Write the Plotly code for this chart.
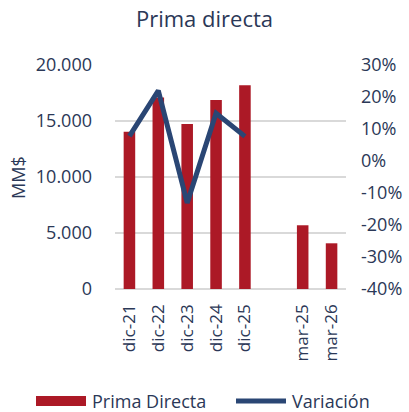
import plotly.graph_objects as go

categories = ["dic-21", "dic-22", "dic-23", "dic-24", "dic-25", " ", "mar-25", "mar-26"]
prima_directa = [14050, 17100, 14730, 16880, 18200, None, 5690, 4080]
variacion = [0.078, 0.22, -0.131, 0.149, 0.077, None, None, None]

TXT = "#2B3857"
FONT = "Open Sans"
BAR = "#AC1926"
LINE = "#2A4674"

W, H = 409, 412
L, R, T, B = 115, 63, 65, 123
PW, PH = W - L - R, H - T - B


def px(x):
    return (x - L) / PW


def py(y):
    return (H - B - y) / PH


fig = go.Figure()
fig.add_trace(go.Bar(x=categories, y=prima_directa, name="Prima Directa",
                     marker=dict(color=BAR, line=dict(width=0)), yaxis="y"))
fig.add_trace(go.Scatter(x=categories, y=variacion, name="Variación", mode="lines",
                         line=dict(color=LINE, width=5), yaxis="y2"))

shapes = [
    dict(type="rect", xref="paper", yref="paper", x0=px(36), x1=px(86), y0=py(406), y1=py(396),
         fillcolor=BAR, line=dict(width=0)),
    dict(type="line", xref="paper", yref="paper", x0=px(236), x1=px(286), y0=py(401), y1=py(401),
         line=dict(color=LINE, width=5)),
]
annotations = [
    dict(text="Prima Directa", xref="paper", yref="paper", x=px(90), y=py(401), xanchor="left",
         yanchor="middle", showarrow=False, font=dict(size=18, color=TXT, family=FONT)),
    dict(text="Variación", xref="paper", yref="paper", x=px(290), y=py(401), xanchor="left",
         yanchor="middle", showarrow=False, font=dict(size=18, color=TXT, family=FONT)),
    dict(text="MM$", xref="paper", yref="paper", x=px(18), y=py(178), xanchor="center",
         yanchor="middle", textangle=-90, showarrow=False, font=dict(size=18, color=TXT, family=FONT)),
]

fig.update_layout(
    width=W, height=H,
    margin=dict(l=L, r=R, t=T, b=B, autoexpand=False),
    paper_bgcolor="white", plot_bgcolor="white",
    font=dict(family=FONT, color=TXT, size=16),
    title=dict(text="Prima directa", x=0.5, xanchor="center", y=1 - 19 / H, yanchor="middle",
               font=dict(size=22, color=TXT, family=FONT)),
    bargap=0.6,
    showlegend=False,
    shapes=shapes,
    annotations=annotations,
    xaxis=dict(type="category", categoryorder="array", categoryarray=categories,
               tickangle=-90, showgrid=False, showline=False, ticks="", automargin=False,
               tickfont=dict(size=17, color=TXT), ticklabelstandoff=11),
    yaxis=dict(range=[0, 20000], tickvals=[0, 5000, 10000, 15000, 20000],
               ticktext=["0", "5.000", "10.000", "15.000", "20.000"],
               showgrid=True, gridcolor="#D9D9D9", gridwidth=1.5, zeroline=True,
               zerolinecolor="#D9D9D9", zerolinewidth=1.5, showline=False, automargin=False,
               tickfont=dict(size=18, color=TXT), ticklabelstandoff=22),
    yaxis2=dict(range=[-0.4, 0.3], overlaying="y", side="right",
                tickvals=[-0.4, -0.3, -0.2, -0.1, 0, 0.1, 0.2, 0.3],
                ticktext=["-40%", "-30%", "-20%", "-10%", "0%", "10%", "20%", "30%"],
                showgrid=False, zeroline=False, showline=False, automargin=False,
                tickfont=dict(size=18, color=TXT), ticklabelstandoff=14),
)

fig.write_html("out.html", config={"displayModeBar": False},
               post_script="document.body.style.margin='0';document.body.style.overflow='hidden';")
